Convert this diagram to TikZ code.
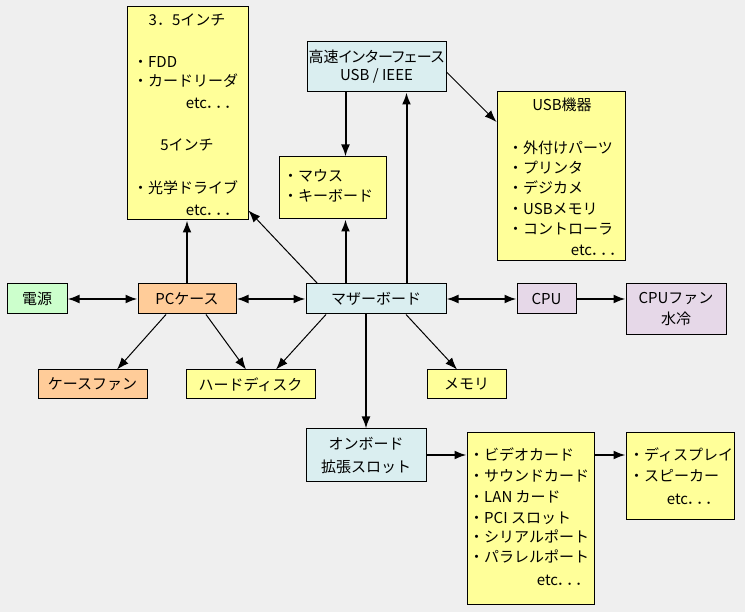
\documentclass[tikz,border=0pt]{standalone}
\usepackage{fontspec}
\setmainfont{Noto Sans CJK JP}
\newfontfamily\jpp{Noto Sans CJK JP}[RawFeature=+palt]
\usetikzlibrary{arrows.meta,calc}
\definecolor{bg}{HTML}{EFEFEF}
\definecolor{ylw}{HTML}{FFFF99}
\definecolor{cyn}{HTML}{DAEEF0}
\definecolor{grn}{HTML}{CCFFCC}
\definecolor{org}{HTML}{FFCC99}
\definecolor{prp}{HTML}{E6D8E8}
\newcommand{\etcdots}{etc．\kern1.6pt．\kern1.6pt．}
\tikzset{
  box/.style={draw=black, line width=1pt, inner sep=0pt, align=center, font=\fontsize{15}{21}\selectfont},
  tx/.style={inner sep=0pt, text height=13pt, text depth=2pt, font=\fontsize{15}{18}\selectfont},
  etcx/.style={inner sep=0pt, anchor=east, text height=13pt, text depth=2pt, font=\jpp\fontsize{15}{18}\selectfont},
  thk/.style={line width=2pt, -{Latex[length=12pt,width=9pt]}},
  thkb/.style={line width=2pt, {Latex[length=12pt,width=9pt]}-{Latex[length=12pt,width=9pt]}},
  thn/.style={line width=1pt, -{Latex[length=12pt,width=9pt]}},
}
\begin{document}
\begin{tikzpicture}[x=1pt,y=-1pt]
\fill[bg] (0,0) rectangle (745,612);
\useasboundingbox (0,0) rectangle (745,612);

% boxes
\node[box,fill=ylw,minimum width=121pt,minimum height=213pt] (b35) at (187.5,113.5) {};
\node[box,fill=cyn,minimum width=139pt,minimum height=50pt,font=\jpp\fontsize{15}{18}\selectfont] (hs) at (376.5,67) {高速インターフェース\\USB / IEEE};
\node[box,fill=ylw,minimum width=128pt,minimum height=169pt] (usb) at (561,176.5) {};
\node[box,fill=ylw,minimum width=107pt,minimum height=62pt] (mouse) at (332.5,188) {};
\node[box,fill=grn,minimum width=60pt,minimum height=30pt] (power) at (37,299) {電源};
\node[box,fill=org,minimum width=98pt,minimum height=30pt] (pc) at (187,299) {PCケース};
\node[box,fill=cyn,minimum width=140pt,minimum height=30pt] (mb) at (376,299) {マザーボード};
\node[box,fill=prp,minimum width=59pt,minimum height=30pt] (cpu) at (546.5,299) {CPU};
\node[box,fill=prp,minimum width=100pt,minimum height=51pt] (fan) at (676,309.5) {CPUファン\\水冷};
\node[box,fill=org,minimum width=109pt,minimum height=29pt] (cf) at (92.5,384.5) {ケースファン};
\node[box,fill=ylw,minimum width=129pt,minimum height=29pt] (hdd) at (250.5,384.5) {ハードディスク};
\node[box,fill=ylw,minimum width=79pt,minimum height=29pt] (mem) at (466.5,384.5) {メモリ};
\node[box,fill=cyn,minimum width=120pt,minimum height=52pt,font=\fontsize{15}{23}\selectfont] (onb) at (366,455) {オンボード\\拡張スロット};
\node[box,fill=ylw,minimum width=127pt,minimum height=171pt] (vid) at (530.5,518.5) {};
\node[box,fill=ylw,minimum width=108pt,minimum height=86pt] (disp) at (680,476) {};

% texts in 3.5 box
\node[tx] (b35t) at (187,20) {3．5インチ};
\node[tx,anchor=west] (b35a) at (133,62) {・FDD};
\node[tx,anchor=west] (b35b) at (133,81) {・カードリーダ};
\node[etcx] (b35c) at (233,103) {\etcdots};
\node[tx] (b35d) at (187,145) {5インチ};
\node[tx,anchor=west] (b35f) at (133,188) {・光学ドライブ};
\node[etcx] (b35g) at (233,210) {\etcdots};

% texts in USB box
\node[tx] (usbt) at (562,105) {USB機器};
\node[tx,anchor=west] (usba) at (508,148) {・外付けパーツ};
\node[tx,anchor=west] (usbb) at (508,168) {・プリンタ};
\node[tx,anchor=west] (usbc) at (508,188) {・デジカメ};
\node[tx,anchor=west] (usbd) at (508,209) {・USBメモリ};
\node[tx,anchor=west] (usbe) at (508,229) {・コントローラ};
\node[etcx] (usbf) at (618,250) {\etcdots};

% texts in mouse box
\node[tx,anchor=west] (msa) at (283,176) {・マウス};
\node[tx,anchor=west] (msb) at (283,196) {・キーボード};

% texts in expansion box
\node[tx,anchor=west] (vida) at (469,455) {・ビデオカード};
\node[tx,anchor=west] (vidb) at (469,476) {・サウンドカード};
\node[tx,anchor=west] (vidc) at (469,497) {・LAN カード};
\node[tx,anchor=west] (vidd) at (469,518) {・PCI スロット};
\node[tx,anchor=west] (vide) at (469,537) {・シリアルポート};
\node[tx,anchor=west] (vidf) at (469,557) {・パラレルポート};
\node[etcx] (vidg) at (584,580) {\etcdots};

% texts in display box
\node[tx,anchor=west] (dspa) at (629,455) {・ディスプレイ};
\node[tx,anchor=west] (dspb) at (629,476) {・スピーカー};
\node[etcx] (dspc) at (714,499) {\etcdots};

% helper coordinates
\coordinate (mbm) at ([xshift=40pt]mb.north west);
\coordinate (mbh) at ([xshift=101pt]mb.north west);

% thick connectors
\draw[thkb] (power.east) -- (pc.west);
\draw[thkb] (pc.east) -- (mb.west);
\draw[thkb] (mb.east) -- (cpu.west);
\draw[thk] (cpu.east) -- (cpu.east -| fan.west);
\draw[thk] (pc.north) -- (pc.north |- b35.south);
\draw[thk] (mbm) -- (mbm |- mouse.south);
\draw[thk] (mbm |- hs.south) -- (mbm |- mouse.north);
\draw[thk] (mbh) -- (mbh |- hs.south);
\draw[thk] (onb.north |- mb.south) -- (onb.north);
\draw[thk] (onb.east) -- (onb.east -| vid.west);
\draw[thk] (vid.east |- vida) -- (disp.west |- vida);

% thin connectors
\draw[thn] ([xshift=12pt]mb.north west) -- ([yshift=10pt]b35.south east);
\draw[thn] ([yshift=-5pt]hs.east) -- ([yshift=54.5pt]usb.west);
\draw[thn] ([xshift=-21pt]pc.south) -- ([xshift=24.5pt]cf.north);
\draw[thn] ([xshift=19pt]pc.south) -- ([xshift=-4.5pt]hdd.north);
\draw[thn] ([xshift=-50pt]mb.south) -- ([xshift=25.5pt]hdd.north);
\draw[thn] ([xshift=30pt]mb.south) -- ([xshift=-9.5pt]mem.north);
\end{tikzpicture}
\end{document}
